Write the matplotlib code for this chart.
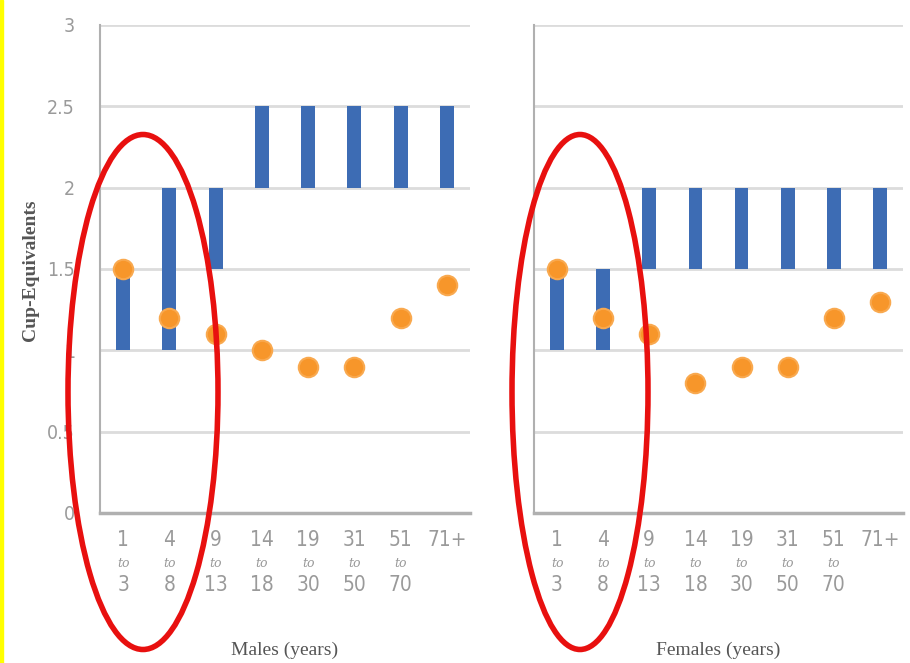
import matplotlib.pyplot as plt
from matplotlib.patches import Ellipse, Rectangle

# age groups
groups_top = ['1', '4', '9', '14', '19', '31', '51', '71+']
groups_bot = ['3', '8', '13', '18', '30', '50', '70', '']

# recommended range (low, high) in cup-equivalents
male_low = [1, 1, 1.5, 2, 2, 2, 2, 2]
male_high = [1.5, 2, 2, 2.5, 2.5, 2.5, 2.5, 2.5]
female_low = [1, 1, 1.5, 1.5, 1.5, 1.5, 1.5, 1.5]
female_high = [1.5, 1.5, 2, 2, 2, 2, 2, 2]

# average intake
male_intake = [1.5, 1.2, 1.1, 1.0, 0.9, 0.9, 1.2, 1.4]
female_intake = [1.5, 1.2, 1.1, 0.8, 0.9, 0.9, 1.2, 1.3]

yticks = [0, 0.5, 1, 1.5, 2, 2.5, 3]
ytick_labels = ['0', '0.5', '1', '1.5', '2', '2.5', '3']

blue = '#3d6cb4'
orange = '#f7962a'
grid = '#dcdcdc'
tick_col = '#9a9a9a'

fig = plt.figure(figsize=(9.1, 6.63), dpi=100)
ax1 = fig.add_axes([100 / 910, 150 / 663, 370 / 910, 488 / 663])
ax2 = fig.add_axes([534 / 910, 150 / 663, 369 / 910, 488 / 663])


def draw(ax, low, high, intake, xlabel, show_y):
    x = list(range(len(groups_top)))
    heights = [h - l for l, h in zip(low, high)]
    ax.bar(x, heights, bottom=low, width=0.3, color=blue, zorder=3)
    ax.plot(x, intake, 'o', color=orange, markersize=14,
            markeredgecolor='#f9a94f', markeredgewidth=1.5, zorder=4)
    ax.set_xlim(-0.5, len(x) - 0.5)
    ax.set_ylim(0, 3)
    ax.set_yticks(yticks)
    for yv in yticks[1:]:
        ax.axhline(yv, color=grid, linewidth=2, zorder=1)
    if show_y:
        ax.set_yticklabels(ytick_labels, fontsize=14, color=tick_col,
                           fontstretch='condensed')
    else:
        ax.set_yticklabels([])
    ax.tick_params(axis='y', length=0, pad=18)
    ax.tick_params(axis='x', length=0)
    ax.set_xticks([])
    for s in ['top', 'right']:
        ax.spines[s].set_visible(False)
    ax.spines['left'].set_color('#b0b0b0')
    ax.spines['left'].set_linewidth(1.5)
    ax.spines['bottom'].set_color('#b0b0b0')
    ax.spines['bottom'].set_linewidth(2.5)
    tr = ax.get_xaxis_transform()
    for i in x:
        ax.text(i, -0.055, groups_top[i], transform=tr, ha='center', va='center',
                fontsize=15, color=tick_col, fontstretch='condensed')
        if groups_bot[i]:
            ax.text(i, -0.103, 'to', transform=tr, ha='center', va='center',
                    fontsize=9, color=tick_col, style='italic', family='DejaVu Serif')
            ax.text(i, -0.148, groups_bot[i], transform=tr, ha='center', va='center',
                    fontsize=15, color=tick_col, fontstretch='condensed')
    ax.text(0.5, -0.282, xlabel, transform=ax.transAxes, ha='center', va='center',
            fontsize=14, color='#555555', family='Liberation Serif')


draw(ax1, male_low, male_high, male_intake, 'Males (years)', True)
draw(ax2, female_low, female_high, female_intake, 'Females (years)', False)

fig.text(30 / 910, 1 - 270 / 663, 'Cup-Equivalents', rotation=90, ha='center',
         va='center', fontsize=14, color='#555555', family='Liberation Serif',
         fontweight='bold')

# red circles
for cx, w in [(143, 150), (580, 136)]:
    fig.add_artist(Ellipse((cx / 100, (663 - 392) / 100), w / 100, 515 / 100,
                           transform=fig.dpi_scale_trans, fill=False,
                           edgecolor='#e8100f', linewidth=4, zorder=10))

# yellow border at left
fig.add_artist(Rectangle((0, 0), 3 / 910, 1, transform=fig.transFigure,
                         color='#ffff00', zorder=11))

fig.savefig('out.png', dpi=100)
